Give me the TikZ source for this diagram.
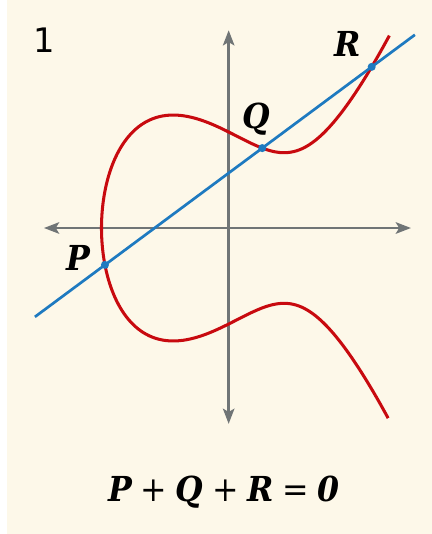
\documentclass[tikz,border=0pt]{standalone}
\usepackage{fontspec}
\setmainfont{DejaVu Serif}
\setsansfont{DejaVu Sans}
\usepackage{tikz}
\usetikzlibrary{arrows.meta}

\definecolor{paper}{RGB}{253,248,233}
\definecolor{axisgray}{RGB}{112,117,118}
\definecolor{curvered}{RGB}{200,10,15}
\definecolor{lineblue}{RGB}{30,122,192}

\newcommand{\bi}[1]{{\bfseries\itshape #1}}
\newcommand{\gap}{\hspace{0.27em}}

\tikzset{
  axis/.style={draw=axisgray, line width=0.75pt, {Stealth[length=4.5pt,width=3.4pt,inset=1pt]}-{Stealth[length=4.5pt,width=3.4pt,inset=1pt]}},
  curve/.style={draw=curvered, line width=0.9pt},
  secant/.style={draw=lineblue, line width=0.8pt},
  ptdot/.style={fill=lineblue},
  ptlabel/.style={font=\fontsize{10.2}{12}\selectfont\bfseries\itshape}
}

\begin{document}
\begin{tikzpicture}[x=1cm,y=1cm]
      \useasboundingbox (-2.382,-3.1875) rectangle (2.118,2.375);
      \fill[white] (-2.382,-3.1875) rectangle (2.118,2.375);
      \fill[paper] (-2.309,-3.1875) rectangle (2.118,2.375);

      \coordinate (xl) at (-1.924,0);
      \coordinate (xr) at (1.899,0);
      \coordinate (yt) at (0,2.06);
      \coordinate (yb) at (0,-2.04);
      \draw[axis] (xl) -- (xr);
      \draw[axis] (yt) -- (yb);

      \draw[curve] plot[domain=-1.728:1.733, samples=160, smooth, variable=\t]
        ({-1.324718+(\t)^2}, {\t*sqrt((-1.324718+(\t)^2)^2-1.324718*(-1.324718+(\t)^2)+0.754878)});

      \coordinate (P) at (-1.288902,-0.384266);
      \coordinate (Q) at (0.35,0.83239);
      \coordinate (R) at (1.49,1.67868);
      \coordinate (lstart) at (-2.018,-0.9255);
      \coordinate (lend) at (1.94,2.0127);
      \draw[secant] (lstart) -- (P) -- (Q) -- (R) -- (lend);

      \fill[ptdot] (P) circle (0.042);
      \fill[ptdot] (Q) circle (0.042);
      \fill[ptdot] (R) circle (0.042);

      \node[ptlabel] (labP) at (-1.57,-0.31) {\scalebox{0.92}[1]{P}};
      \node[ptlabel] (labQ) at (0.284,1.13) {\scalebox{0.92}[1]{Q}};
      \node[ptlabel] (labR) at (1.243,1.917) {\scalebox{0.92}[1]{R}};

      \node[font=\sffamily\fontsize{10}{12}\selectfont] (num) at (-1.924,1.958) {1};

      \node[anchor=base, font=\fontsize{10.2}{12}\selectfont] (eq) at (-0.05,-2.854)
        {\scalebox{0.92}[1]{\bi{P}\gap+\gap\bi{Q}\gap+\gap\bi{R}\gap=\gap\bi{0}}};
    \end{tikzpicture}
\end{document}
